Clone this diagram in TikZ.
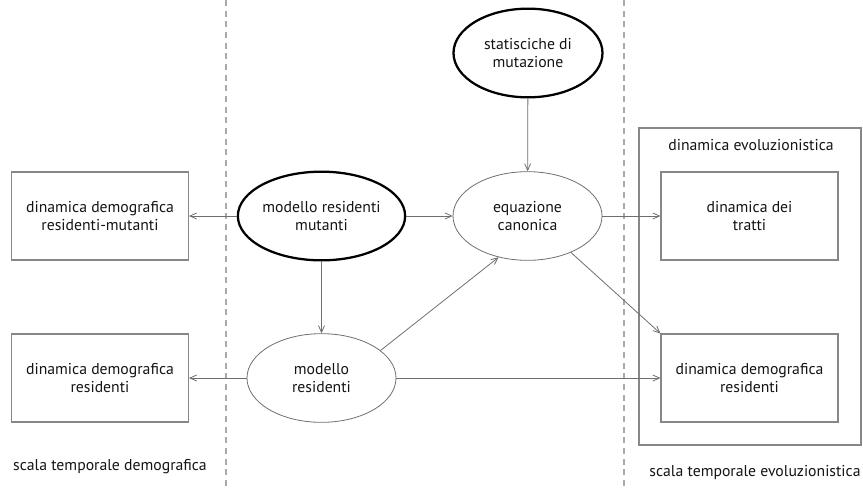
\documentclass[tikz,border=0pt]{standalone}
\usepackage{fontspec}
\setmainfont{PT Sans}
\usetikzlibrary{arrows.meta,shapes.geometric}
\definecolor{linegray}{RGB}{110,110,110}
\definecolor{boxgray}{RGB}{135,135,135}
\definecolor{dashgray}{RGB}{170,170,170}
\definecolor{txt}{RGB}{20,20,20}
\begin{document}
\begin{tikzpicture}[x=0.75pt,y=-0.75pt,
  lbl/.style={text=txt, font=\fontsize{11.8}{13.5}\selectfont, align=center, inner sep=0pt},
  box/.style={lbl, draw=boxgray, line width=0.8pt, minimum width=132.75pt, minimum height=66pt},
  ell/.style={lbl, ellipse, draw=linegray, line width=0.6pt, minimum width=111.75pt, minimum height=66.5pt},
  thickell/.style={ell, draw=black, line width=1.7pt},
  conn/.style={draw=linegray, line width=0.6pt, -{Straight Barb[length=5pt,width=4.5pt,line width=0.6pt]}},
  sep/.style={draw=dashgray, line width=0.8pt, dash pattern=on 4.5pt off 3.5pt}
]
\useasboundingbox (0,0) rectangle (863,489);
% separators
\coordinate (s1t) at (226,0); \coordinate (s1b) at (226,489);
\coordinate (s2t) at (624,0); \coordinate (s2b) at (624,489);
\draw[sep] (s1t) -- (s1b);
\draw[sep] (s2t) -- (s2b);
% outer box
\node[draw=boxgray, line width=0.8pt, minimum width=166.5pt, minimum height=237.75pt, inner sep=0pt] (evo) at (750,286.5) {};
\node[lbl] (evot) at (751,145) {dinamica evoluzionistica};
% boxes
\node[box] (ddrm) at (100,216) {dinamica demografica\\residenti-mutanti};
\node[box] (ddr) at (100,378) {dinamica demografica\\residenti};
\node[box] (ddt) at (749.5,216) {dinamica dei\\tratti};
\node[box] (ddr2) at (749.5,378) {dinamica demografica\\residenti};
% ellipses
\node[thickell] (stat) at (528,53) {statisciche di\\mutazione};
\node[thickell] (mrm) at (321.5,216) {modello residenti\\mutanti};
\node[ell] (eq) at (527.5,216) {equazione\\canonica};
\node[ell] (mr) at (321.5,378) {modello\\residenti};
% labels
\node[lbl] (sd) at (110,467) {scala temporale demografica};
\node[lbl] (se) at (755,472) {scala temporale evoluzionistica};
% connectors
\draw[conn] (mrm) -- (ddrm);
\draw[conn] (mrm) -- (eq);
\draw[conn] (mrm) -- (mr);
\draw[conn] (stat) -- (eq);
\draw[conn] (mr.25) -- (eq.235);
\draw[conn] (mr) -- (ddr);
\draw[conn] (mr) -- (ddr2);
\draw[conn] (eq) -- (ddt);
\draw[conn] (eq.-40) -- (ddr2.north west);
\end{tikzpicture}
\end{document}
